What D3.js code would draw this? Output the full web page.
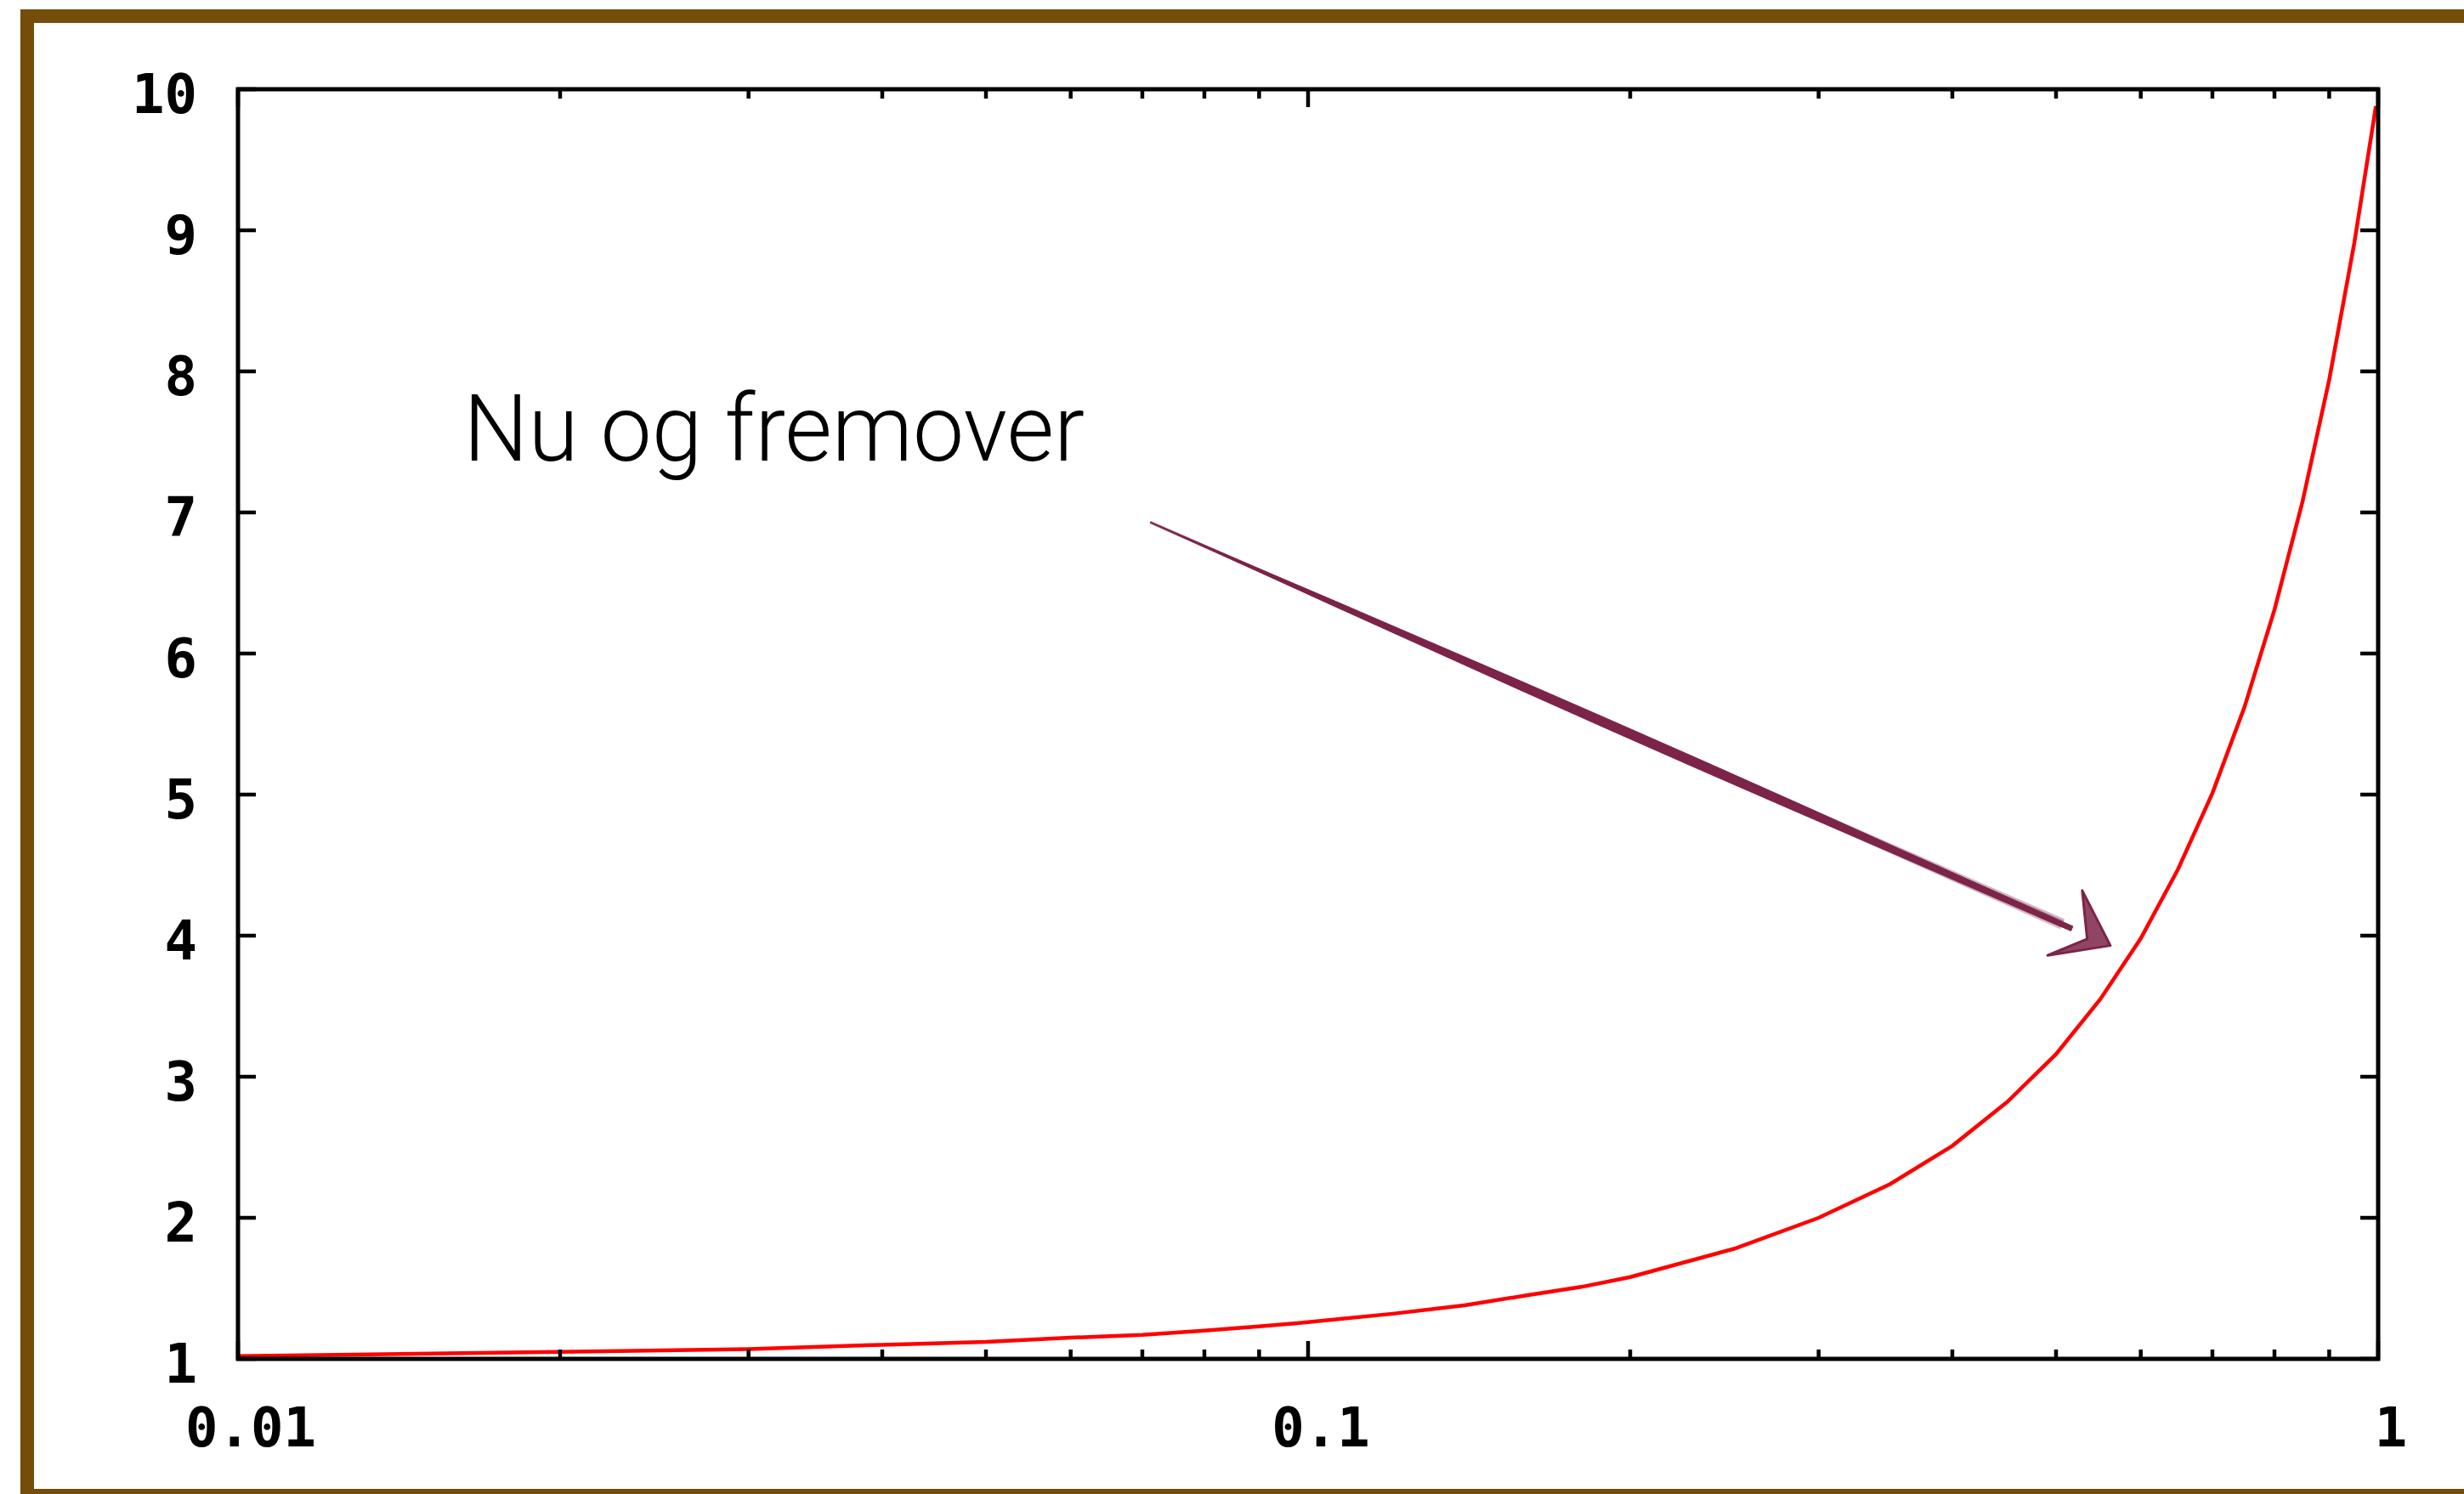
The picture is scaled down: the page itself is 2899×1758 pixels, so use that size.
<!DOCTYPE html>
<html>
<head>
<meta charset="utf-8">
<script src="https://cdn.jsdelivr.net/npm/d3@7"></script>
<style>
  html, body { margin: 0; padding: 0; background: #ffffff; }
  svg { display: block; }
</style>
</head>
<body>
<svg id="chart" width="2899" height="1758"></svg>
<script>
// ---- data ----
const xValues = [0.01, 0.02, 0.03, 0.04, 0.05, 0.06, 0.07, 0.08, 0.09, 0.10,
                 0.12, 0.14, 0.16, 0.18, 0.20, 0.25, 0.30, 0.35, 0.40, 0.45,
                 0.50, 0.55, 0.60, 0.65, 0.70, 0.75, 0.80, 0.85, 0.90, 0.95,
                 0.99, 0.995];
const yValues = [1.02, 1.05, 1.07, 1.10, 1.12, 1.15, 1.17, 1.20, 1.23, 1.26,
                 1.32, 1.38, 1.45, 1.51, 1.58, 1.78, 2.00, 2.24, 2.51, 2.82,
                 3.16, 3.55, 3.98, 4.47, 5.01, 5.62, 6.31, 7.08, 7.94, 8.91,
                 9.77, 9.88];
const xMajorTicks = [0.01, 0.1, 1];
const xTickLabels = ["0.01", "0.1", "1"];
const yTicks = [1, 2, 3, 4, 5, 6, 7, 8, 9, 10];
const yTickLabels = ["1", "2", "3", "4", "5", "6", "7", "8", "9", "10"];
const annotationText = "Nu og fremover";
const annotationTextAt = [0.01624, 7.37];      // [x, y] data coords of text start
const arrowFrom = [0.0712, 6.93];
const arrowTip = [0.562, 3.93];
const arrowWingA = [0.529, 4.32];
const arrowWingB = [0.491, 3.86];

// ---- layout ----
const svg = d3.select("#chart");
const L = 280, R = 2798, T = 105, B = 1599;
const x = d3.scaleLog().domain([0.01, 1]).range([L, R]);
const y = d3.scaleLinear().domain([1, 10]).range([B, T]);

// brown frame (clipped on right, as in the picture)
const brown = "#744d09";
svg.append("rect").attr("x", 24).attr("y", 11).attr("width", 2880).attr("height", 16).attr("fill", brown);
svg.append("rect").attr("x", 24).attr("y", 11).attr("width", 16).attr("height", 1758).attr("fill", brown);
svg.append("rect").attr("x", 24).attr("y", 1752).attr("width", 2880).attr("height", 10).attr("fill", brown);

// curve
const line = d3.line().x((d, i) => x(xValues[i])).y((d, i) => y(yValues[i]));
svg.append("path").datum(yValues).attr("d", line)
  .attr("fill", "none").attr("stroke", "#ff0000").attr("stroke-width", 4.5)
  .attr("stroke-linejoin", "miter");

// ticks (inward, mirrored)
const tickG = svg.append("g").attr("stroke", "#000").attr("stroke-width", 4.5);
const minor = [];
[0.01, 0.1].forEach(dec => { for (let k = 2; k <= 9; k++) minor.push(dec * k); });
xMajorTicks.forEach(v => {
  tickG.append("line").attr("x1", x(v)).attr("x2", x(v)).attr("y1", B).attr("y2", B - 21);
  tickG.append("line").attr("x1", x(v)).attr("x2", x(v)).attr("y1", T).attr("y2", T + 21);
});
minor.forEach(v => {
  tickG.append("line").attr("x1", x(v)).attr("x2", x(v)).attr("y1", B).attr("y2", B - 11);
  tickG.append("line").attr("x1", x(v)).attr("x2", x(v)).attr("y1", T).attr("y2", T + 11);
});
yTicks.forEach(v => {
  tickG.append("line").attr("x1", L).attr("x2", L + 21).attr("y1", y(v)).attr("y2", y(v));
  tickG.append("line").attr("x1", R).attr("x2", R - 21).attr("y1", y(v)).attr("y2", y(v));
});

// plot border
svg.append("rect").attr("x", L).attr("y", T).attr("width", R - L).attr("height", B - T)
  .attr("fill", "none").attr("stroke", "#000").attr("stroke-width", 5);

// tick labels
const labelFont = "'DejaVu Sans Mono', monospace";
svg.append("g").selectAll("text").data(yTicks).join("text")
  .attr("x", 232).attr("y", d => y(d) + 28)
  .attr("text-anchor", "end")
  .attr("font-family", labelFont).attr("font-weight", "bold").attr("font-size", 64)
  .attr("fill", "#000")
  .text((d, i) => yTickLabels[i]);
svg.append("g").selectAll("text").data(xMajorTicks).join("text")
  .attr("x", d => x(d) + 15).attr("y", 1702)
  .attr("text-anchor", "middle")
  .attr("font-family", labelFont).attr("font-weight", "bold").attr("font-size", 64)
  .attr("fill", "#000")
  .text((d, i) => xTickLabels[i]);

// annotation text
svg.append("text")
  .attr("x", x(annotationTextAt[0])).attr("y", y(annotationTextAt[1]))
  .attr("font-family", "Roboto, 'Open Sans', sans-serif").attr("font-weight", 300)
  .attr("font-size", 110).attr("fill", "#000")
  .attr("textLength", 731).attr("lengthAdjust", "spacingAndGlyphs")
  .text(annotationText);

// hand-drawn arrow
const maroon = "#7c2449";
const p0 = [x(arrowFrom[0]), y(arrowFrom[1])];
const p1 = [x(arrowTip[0]), y(arrowTip[1])];
const wa = [x(arrowWingA[0]), y(arrowWingA[1])];
const wb = [x(arrowWingB[0]), y(arrowWingB[1])];
const dx = p1[0] - p0[0], dy = p1[1] - p0[1];
const len = Math.hypot(dx, dy);
const ux = dx / len, uy = dy / len, nx = -uy, ny = ux;
const widths = [0.5, 3, 6, 8, 10, 11, 11, 10, 8, 7, 6];
const up = [], down = [];
widths.forEach((w, i) => {
  const t = i / (widths.length - 1) * 0.96;
  const cx = p0[0] + dx * t, cy = p0[1] + dy * t;
  up.push([cx + nx * w / 2, cy + ny * w / 2]);
  down.push([cx - nx * w / 2, cy - ny * w / 2]);
});
const arrowG = svg.append("g");
arrowG.append("path")
  .attr("d", d3.line()(up.concat(down.reverse())) + "Z")
  .attr("fill", maroon).attr("stroke", maroon).attr("stroke-width", 1);
// sketchy strands
[[-7, 0.6], [6, 0.5], [-10, 0.35], [9, 0.35]].forEach(([off, op], k) => {
  const s0 = [p0[0] + nx * off * 0.1, p0[1] + ny * off * 0.1];
  const s1 = [p0[0] + dx * 0.95 + nx * off * 0.6, p0[1] + dy * 0.95 + ny * off * 0.6];
  arrowG.append("line").attr("x1", s0[0]).attr("y1", s0[1]).attr("x2", s1[0]).attr("y2", s1[1])
    .attr("stroke", maroon).attr("stroke-width", 1.5).attr("opacity", op);
});
// head
const inner = [p1[0] - ux * 28, p1[1] - uy * 28];
arrowG.append("path")
  .attr("d", d3.line()([p1, wa, [inner[0] + nx * 4, inner[1] + ny * 4], wb]) + "Z")
  .attr("fill", maroon).attr("fill-opacity", 0.85)
  .attr("stroke", maroon).attr("stroke-width", 3).attr("stroke-linejoin", "round");
</script>
</body>
</html>
